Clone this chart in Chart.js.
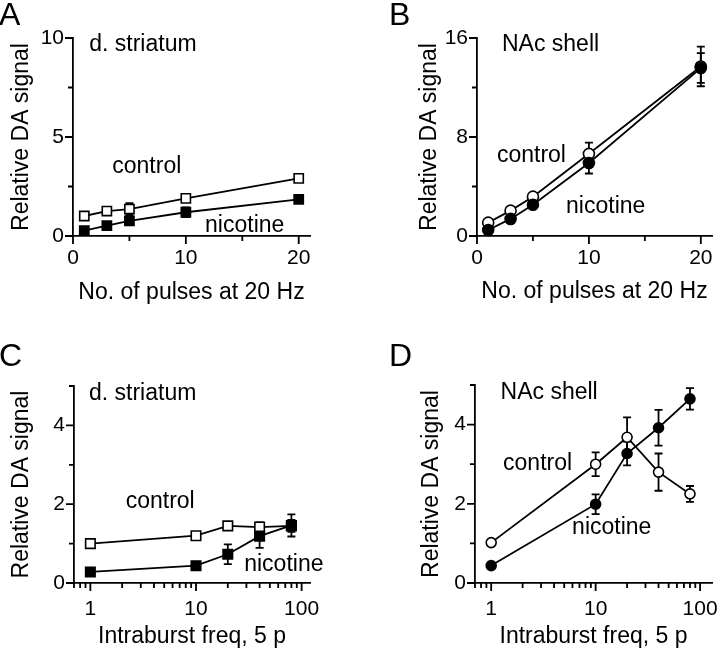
<!DOCTYPE html>
<html lang="en">
<head>
<meta charset="UTF-8">
<title>Relative DA signal</title>
<script src="https://cdn.jsdelivr.net/npm/chart.js"></script>
<style>
  body { margin: 0; background: #fff; }
  #wrap { position: relative; width: 720px; height: 650px; overflow: hidden; }
  canvas { position: absolute; }
  .tag { position: absolute; font: 32px "Liberation Sans", Arial, sans-serif; line-height: 1; color: #000; }
</style>
</head>
<body>
<div id="wrap">
  <canvas id="chartA" width="360" height="320" style="left:0;top:0"></canvas>
  <canvas id="chartB" width="360" height="320" style="left:360px;top:0"></canvas>
  <canvas id="chartC" width="360" height="330" style="left:0;top:320px"></canvas>
  <canvas id="chartD" width="360" height="330" style="left:360px;top:320px"></canvas>
  <div class="tag" style="left:-1px;top:-2px">A</div>
  <div class="tag" style="left:389px;top:-2px">B</div>
  <div class="tag" style="left:-1px;top:339px">C</div>
  <div class="tag" style="left:389px;top:339px">D</div>
</div>
<script>
// x values
const pulses = [1, 3, 5, 10, 20];
const freqs = [1, 10, 20, 40, 80];

// A: d. striatum, pulses at 20 Hz
const aControl = [1.01, 1.26, 1.36, 1.9, 2.91];
const aControlErr = [0.08, 0.1, 0.3, 0.12, 0.15];
const aNicotine = [0.27, 0.52, 0.76, 1.2, 1.85];
const aNicotineErr = [0.06, 0.1, 0.15, 0.25, 0.15];

// B: NAc shell, pulses at 20 Hz
const bControl = [1.08, 2.05, 3.18, 6.64, 13.7];
const bControlErr = [0.2, 0.3, 0.3, 0.9, 1.6];
const bNicotine = [0.49, 1.38, 2.53, 5.9, 13.57];
const bNicotineErr = [0.2, 0.3, 0.3, 0.85, 1.2];

// C: d. striatum, intraburst freq
const cControl = [1.0, 1.2, 1.45, 1.42, 1.45];
const cControlErr = [0.05, 0.08, 0.1, 0.12, 0.15];
const cNicotine = [0.28, 0.44, 0.73, 1.19, 1.46];
const cNicotineErr = [0.05, 0.08, 0.25, 0.3, 0.28];

// D: NAc shell, intraburst freq
const dControl = [1.02, 3.0, 3.68, 2.8, 2.25];
const dControlErr = [0.05, 0.3, 0.5, 0.47, 0.2];
const dNicotine = [0.44, 1.99, 3.27, 3.92, 4.65];
const dNicotineErr = [0.05, 0.25, 0.3, 0.45, 0.27];

// ticks (all marks) and the ones that carry a label
const pulseTicks = [0, 5, 10, 15, 20];
const pulseLabels = [0, 10, 20];
const freqTicks = [0.7, 0.8, 0.9, 1, 2, 3, 4, 5, 6, 7, 8, 9, 10, 20, 30, 40, 50, 60, 70, 80, 90, 100];
const freqLabels = [1, 10, 100];
const aYTicks = [0, 2.5, 5, 7.5, 10];
const aYLabels = [0, 5, 10];
const bYTicks = [0, 4, 8, 12, 16];
const bYLabels = [0, 8, 16];
const cdYTicks = [0, 1, 2, 3, 4, 5];
const cdYLabels = [0, 2, 4];

const FONT = '"Liberation Sans", Arial, sans-serif';
Chart.defaults.font.family = FONT;
Chart.defaults.color = '#000';

// error bars go under the markers
const errorBars = {
    id: 'errorBars',
    beforeDatasetsDraw(chart) {
        const ctx = chart.ctx;
        const ys = chart.scales.y;
        ctx.save();
        ctx.strokeStyle = '#000';
        ctx.lineWidth = 1.8;
        chart.data.datasets.forEach((ds, i) => {
            const meta = chart.getDatasetMeta(i);
            meta.data.forEach((pt, j) => {
                const e = ds.errors[j];
                const v = ds.data[j].y;
                const top = ys.getPixelForValue(v + e);
                const bot = ys.getPixelForValue(v - e);
                ctx.beginPath();
                ctx.moveTo(pt.x, top); ctx.lineTo(pt.x, bot);
                ctx.moveTo(pt.x - 4, top); ctx.lineTo(pt.x + 4, top);
                ctx.moveTo(pt.x - 4, bot); ctx.lineTo(pt.x + 4, bot);
                ctx.stroke();
            });
        });
        ctx.restore();
    }
};

// outward tick marks, longer where there is a label
const tickMarks = {
    id: 'tickMarks',
    afterDraw(chart) {
        const ctx = chart.ctx;
        const xs = chart.scales.x, ys = chart.scales.y;
        ctx.save();
        ctx.strokeStyle = '#000';
        ctx.lineWidth = 1.8;
        ctx.beginPath();
        xs.ticks.forEach(t => {
            const px = xs.getPixelForValue(t.value);
            const len = t.label !== '' ? 8 : 5;
            ctx.moveTo(px, xs.top); ctx.lineTo(px, xs.top + len);
        });
        ys.ticks.forEach(t => {
            const py = ys.getPixelForValue(t.value);
            const len = t.label !== '' ? 8 : 5;
            ctx.moveTo(ys.right, py); ctx.lineTo(ys.right - len, py);
        });
        ctx.stroke();
        ctx.restore();
    }
};

function notesPlugin(items) {
    return {
        id: 'notes',
        afterDraw(chart) {
            const ctx = chart.ctx;
            ctx.save();
            ctx.font = '23px ' + FONT;
            ctx.fillStyle = '#000';
            ctx.textAlign = 'left';
            ctx.textBaseline = 'middle';
            items.forEach(n => {
                ctx.fillText(n.text, chart.scales.x.getPixelForValue(n.x), chart.scales.y.getPixelForValue(n.y));
            });
            ctx.restore();
        }
    };
}

function series(label, xs, ys, errs, marker, radius, fill) {
    return {
        label: label,
        data: xs.map((x, i) => ({ x: x, y: ys[i] })),
        errors: errs,
        borderColor: '#000',
        borderWidth: 1.8,
        pointStyle: marker,
        pointRadius: radius,
        pointHoverRadius: radius,
        pointBorderColor: '#000',
        pointBorderWidth: 1.6,
        pointBackgroundColor: fill,
        tension: 0,
        clip: false
    };
}

function makePanel(id, p) {
    return new Chart(document.getElementById(id), {
        type: 'line',
        data: {
            datasets: [
                series('nicotine', p.xVals, p.nic, p.nicErr, p.marker, p.radius, '#000'),
                series('control', p.xVals, p.ctl, p.ctlErr, p.marker, p.radius, '#fff')
            ]
        },
        options: {
            responsive: false,
            animation: false,
            events: [],
            layout: { padding: p.pad },
            plugins: { legend: { display: false }, tooltip: { enabled: false } },
            scales: {
                x: {
                    type: p.xType,
                    min: p.xMin,
                    max: p.xMax,
                    afterBuildTicks: s => { s.ticks = p.xTicks.map(v => ({ value: v })); },
                    afterFit: s => { s.height = p.xH; s.paddingLeft = 0; s.paddingRight = 0; },
                    grid: { display: false, drawTicks: false },
                    border: { display: true, color: '#000', width: 1.8 },
                    ticks: {
                        autoSkip: false, maxRotation: 0, padding: p.xTickPad,
                        font: { size: 21 },
                        callback: v => p.xLabels.includes(v) ? String(v) : ''
                    },
                    title: {
                        display: true, text: p.xTitle, font: { size: 23 },
                        padding: { top: 0, bottom: p.xTitlePad }
                    }
                },
                y: {
                    min: p.yMin,
                    max: p.yMax,
                    afterBuildTicks: s => { s.ticks = p.yTicks.map(v => ({ value: v })); },
                    afterFit: s => { s.width = p.yW; },
                    grid: { display: false, drawTicks: false },
                    border: { display: true, color: '#000', width: 1.8 },
                    ticks: {
                        autoSkip: false, padding: 9,
                        font: { size: 21 },
                        callback: v => p.yLabels.includes(v) ? String(v) : ''
                    },
                    title: {
                        display: true, text: 'Relative DA signal', font: { size: 23 },
                        padding: { top: p.yTitlePad, bottom: 0 }
                    }
                }
            }
        },
        plugins: [errorBars, tickMarks, notesPlugin(p.notes)]
    });
}

makePanel('chartA', {
    xVals: pulses, ctl: aControl, ctlErr: aControlErr, nic: aNicotine, nicErr: aNicotineErr,
    marker: 'rect', radius: 6.5,
    xType: 'linear', xMin: 0, xMax: 21, xTicks: pulseTicks, xLabels: pulseLabels,
    yMin: 0, yMax: 10, yTicks: aYTicks, yLabels: aYLabels,
    xTitle: 'No. of pulses at 20 Hz',
    pad: { left: 0, top: 38, right: 50, bottom: 0 },
    xH: 84, yW: 73, xTickPad: 10, xTitlePad: 14, yTitlePad: 8,
    notes: [
        { text: 'd. striatum', x: 1.44, y: 9.65 },
        { text: 'control', x: 3.48, y: 3.5 },
        { text: 'nicotine', x: 11.7, y: 0.52 }
    ]
});

makePanel('chartB', {
    xVals: pulses, ctl: bControl, ctlErr: bControlErr, nic: bNicotine, nicErr: bNicotineErr,
    marker: 'circle', radius: 5.5,
    xType: 'linear', xMin: 0, xMax: 21, xTicks: pulseTicks, xLabels: pulseLabels,
    yMin: 0, yMax: 16, yTicks: bYTicks, yLabels: bYLabels,
    xTitle: 'No. of pulses at 20 Hz',
    pad: { left: 0, top: 38, right: 8, bottom: 0 },
    xH: 84, yW: 117, xTickPad: 10, xTitlePad: 15, yTitlePad: 56,
    notes: [
        { text: 'NAc shell', x: 2.23, y: 15.46 },
        { text: 'control', x: 1.78, y: 6.47 },
        { text: 'nicotine', x: 7.96, y: 2.37 }
    ]
});

makePanel('chartC', {
    xVals: freqs, ctl: cControl, ctlErr: cControlErr, nic: cNicotine, nicErr: cNicotineErr,
    marker: 'rect', radius: 6.7,
    xType: 'logarithmic', xMin: 0.7, xMax: 120, xTicks: freqTicks, xLabels: freqLabels,
    yMin: 0, yMax: 5, yTicks: cdYTicks, yLabels: cdYLabels,
    xTitle: 'Intraburst freq, 5 p',
    pad: { left: 0, top: 66, right: 50, bottom: 0 },
    xH: 67, yW: 74, xTickPad: 14, xTitlePad: 0, yTitlePad: 8,
    notes: [
        { text: 'd. striatum', x: 0.97, y: 4.81 },
        { text: 'control', x: 2.16, y: 2.07 },
        { text: 'nicotine', x: 28.6, y: 0.46 }
    ]
});

makePanel('chartD', {
    xVals: freqs, ctl: dControl, ctlErr: dControlErr, nic: dNicotine, nicErr: dNicotineErr,
    marker: 'circle', radius: 5,
    xType: 'logarithmic', xMin: 0.7, xMax: 130, xTicks: freqTicks, xLabels: freqLabels,
    yMin: 0, yMax: 5, yTicks: cdYTicks, yLabels: cdYLabels,
    xTitle: 'Intraburst freq, 5 p',
    pad: { left: 0, top: 65, right: 8, bottom: 0 },
    xH: 67, yW: 115, xTickPad: 14, xTitlePad: 0, yTitlePad: 58,
    notes: [
        { text: 'NAc shell', x: 1.23, y: 4.81 },
        { text: 'control', x: 1.3, y: 3.02 },
        { text: 'nicotine', x: 5.95, y: 1.41 }
    ]
});
</script>
</body>
</html>
